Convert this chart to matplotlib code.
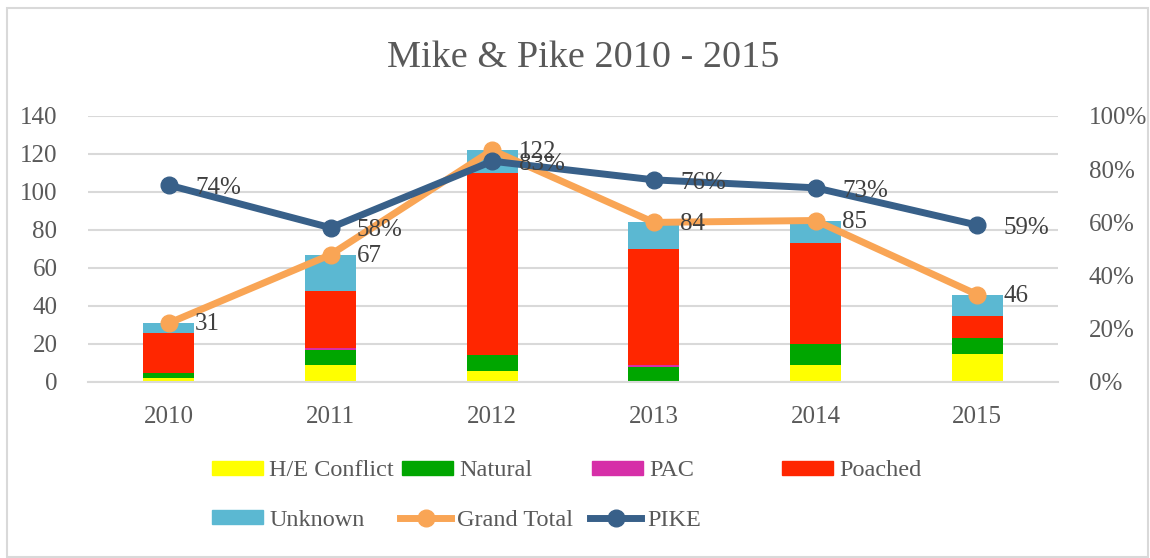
import matplotlib
matplotlib.use("Agg")
import matplotlib.pyplot as plt
import numpy as np
from matplotlib.patches import Patch, Rectangle
from matplotlib.lines import Line2D

# data
years = ["2010", "2011", "2012", "2013", "2014", "2015"]
he_conflict = [2, 9, 6, 0, 9, 15]
natural = [3, 8, 8, 8, 11, 8]
pac = [0, 1, 0, 1, 0, 0]
poached = [21, 30, 96, 61, 53, 12]
unknown = [5, 19, 12, 14, 12, 11]
grand_total = [31, 67, 122, 84, 85, 46]
pike = [0.74, 0.58, 0.83, 0.76, 0.73, 0.59]

colors = {
    "H/E Conflict": "#FFFF00",
    "Natural": "#00A600",
    "PAC": "#D62FA8",
    "Poached": "#FF2600",
    "Unknown": "#5BB8D2",
}
orange = "#F9A555"
blue = "#386089"
grey_txt = "#595959"
grid_c = "#D9D9D9"

plt.rcParams["font.family"] = ["Liberation Serif", "DejaVu Serif"]

W, H = 1150, 558
fig = plt.figure(figsize=(W / 100, H / 100), dpi=100)
ax = fig.add_axes([88 / W, 1 - 382 / H, (1058 - 88) / W, (382 - 116) / H])

x = np.arange(len(years))
bw = 0.315
stack = [("H/E Conflict", he_conflict), ("Natural", natural), ("PAC", pac),
         ("Poached", poached), ("Unknown", unknown)]
bottom = np.zeros(len(years))
for name, vals in stack:
    ax.bar(x, vals, bw, bottom=bottom, color=colors[name], zorder=2)
    bottom += np.array(vals)

ax.plot(x, grand_total, color=orange, lw=5, marker="o", ms=12, zorder=3,
        solid_capstyle="round")

ax.set_xlim(-0.5, 5.5)
ax.set_ylim(0, 140)
ax.set_yticks(range(0, 141, 20))
ax.set_xticks(x)
ax.set_xticklabels(years)
ax.yaxis.grid(True, color=grid_c, lw=1.5, zorder=0)
ax.set_axisbelow(True)
for s in ["top", "right", "left"]:
    ax.spines[s].set_visible(False)
ax.spines["bottom"].set_color(grid_c)
ax.spines["bottom"].set_linewidth(1.5)
ax.tick_params(axis="both", length=0, labelsize=18, colors=grey_txt)
ax.tick_params(axis="y", pad=22)
ax.tick_params(axis="x", pad=17)

ax2 = ax.twinx()
ax2.plot(x, pike, color=blue, lw=5, marker="o", ms=12, zorder=4)
ax2.set_ylim(0, 1)
ax2.set_yticks(np.arange(0, 1.01, 0.2))
ax2.set_yticklabels([f"{int(round(v * 100))}%" for v in np.arange(0, 1.01, 0.2)])
for s in ax2.spines.values():
    s.set_visible(False)
ax2.tick_params(axis="y", length=0, labelsize=18, colors=grey_txt, pad=22)

# data labels
for xi, v in zip(x, grand_total):
    ax2.annotate(str(v), (xi, v / 140), xytext=(19, -1), textcoords="offset points",
                 ha="left", va="center", fontsize=18, color="#404040", zorder=6)
for xi, v in zip(x, pike):
    ax2.annotate(f"{int(round(v * 100))}%", (xi, v), xytext=(19, -2),
                 textcoords="offset points", ha="left", va="center",
                 fontsize=18, color="#404040", zorder=6)

fig.text(583 / W, 1 - 58 / H, "Mike & Pike 2010 - 2015", ha="center", va="center",
         fontsize=27.5, color=grey_txt)

# legend, laid out like the Excel one
entries = [
    (Patch(color=colors["H/E Conflict"]), "H/E Conflict", 212, 471),
    (Patch(color=colors["Natural"]), "Natural", 402, 471),
    (Patch(color=colors["PAC"]), "PAC", 592, 471),
    (Patch(color=colors["Poached"]), "Poached", 782, 471),
    (Patch(color=colors["Unknown"]), "Unknown", 212, 520),
    (Line2D([], [], color=orange, lw=5, marker="o", ms=12), "Grand Total", 400, 520),
    (Line2D([], [], color=blue, lw=5, marker="o", ms=12), "PIKE", 590, 520),
]
for h, lab, lx, ly in entries:
    leg = fig.legend(handles=[h], labels=[lab], loc="center left",
                     bbox_to_anchor=(lx / W, 1 - ly / H), frameon=False,
                     borderpad=0, borderaxespad=0, handlelength=2.1,
                     handleheight=0.5, handletextpad=0.25, fontsize=17.5)
    for t in leg.get_texts():
        t.set_color(grey_txt)

fig.add_artist(Rectangle((7 / W, 1.5 / H), (1148 - 7) / W, (556 - 7) / H,
                         transform=fig.transFigure, fill=False,
                         edgecolor=grid_c, lw=1.5))

fig.savefig("out.png", dpi=100)
